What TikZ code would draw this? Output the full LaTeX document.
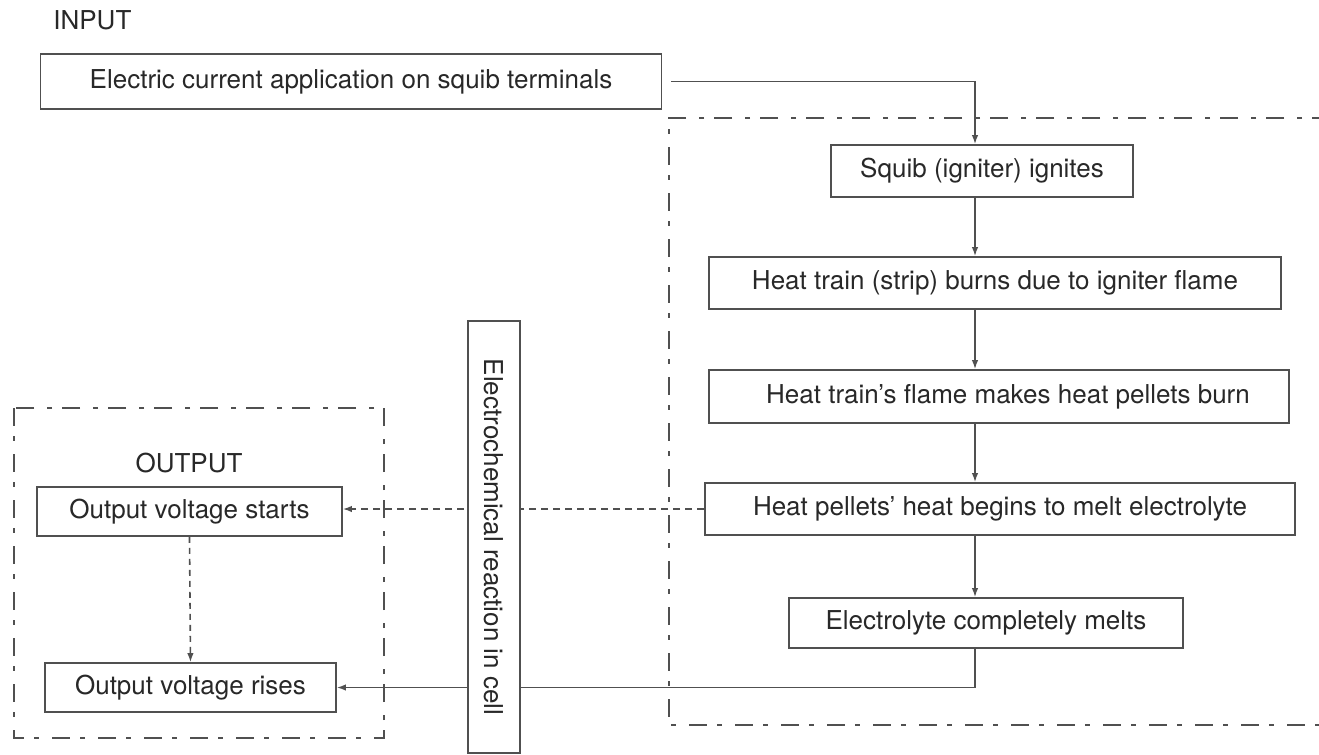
\documentclass[tikz,border=0pt]{standalone}
\usepackage{fontspec}
\setmainfont{TeX Gyre Heros}
\usetikzlibrary{arrows.meta}
\definecolor{linec}{HTML}{505050}
\definecolor{textc}{HTML}{282828}
\newcommand\mainfs{\fontsize{13}{15}\selectfont}
\tikzset{
  box/.style={draw=linec, line width=0.8pt, fill=white, inner sep=0pt, text=textc, font=\mainfs},
  lbl/.style={inner sep=0pt, text=textc, font=\mainfs},
  arr/.style={draw=linec, line width=0.8pt, -{Latex[length=4.5pt,width=3.2pt]}},
  conndash/.style={dash pattern=on 3.5pt off 2.5pt},
  conndashv/.style={dash pattern=on 3pt off 2.5pt},
  groupline/.style={draw=linec, line width=0.75pt, dash pattern=on 9pt off 5pt on 2.5pt off 6.5pt}
}
\begin{document}
\begin{tikzpicture}[x=0.5pt,y=-0.5pt]
\useasboundingbox (0,0) rectangle (1319,755);
% group frames
\draw[groupline] (1330,118) -- (669,118) -- (669,725) -- (1330,725);
\draw[groupline] (14,408) rectangle (384,738);
% labels
\node[lbl, anchor=west] (inlbl) at (53,20) {INPUT};
\node[lbl] (outlbl) at (189,463) {OUTPUT};
% boxes
\node[box, minimum width=310.5pt, minimum height=27.5pt] (in) at (351,81.5) {Electric current application on squib terminals};
\node[box, minimum width=151pt, minimum height=26pt] (squib) at (982,171) {Squib (igniter) ignites};
\node[box, minimum width=286pt, minimum height=26pt] (heat) at (995,283) {Heat train (strip) burns due to igniter flame};
\node[box, minimum width=290pt, minimum height=26.5pt] (flame) at (999,396.5) {\hspace*{9pt}Heat train’s flame makes heat pellets burn};
\node[box, minimum width=295pt, minimum height=26pt] (pellets) at (1000,509) {Heat pellets’ heat begins to melt electrolyte};
\node[box, minimum width=197pt, minimum height=25pt] (elec) at (986,623) {Electrolyte completely melts};
\node[box, minimum width=152.5pt, minimum height=24.5pt] (starts) at (189.5,511.5) {Output voltage starts};
\node[box, minimum width=145.5pt, minimum height=24.5pt] (rises) at (190.5,687.5) {Output voltage rises};
% connectors
\coordinate (col) at (975,0);
\draw[arr, shorten <=4.5pt] (in.east) -| (squib.north -| col);
\draw[arr] (squib.south -| col) -- (heat.north -| col);
\draw[arr] (heat.south -| col) -- (flame.north -| col);
\draw[arr] (flame.south -| col) -- (pellets.north -| col);
\draw[arr] (pellets.south -| col) -- (elec.north -| col);
\draw[arr, conndash] (pellets.west) -- (pellets.west -| starts.east);
\draw[arr, conndashv] (starts.south) -- (rises.north);
\draw[arr] (elec.south -| col) |- (rises.east);
% vertical box on top
\node[box, rotate=-90, minimum width=216pt, minimum height=26pt] (echem) at (494,537) {Electrochemical reaction in cell};
\end{tikzpicture}
\end{document}
